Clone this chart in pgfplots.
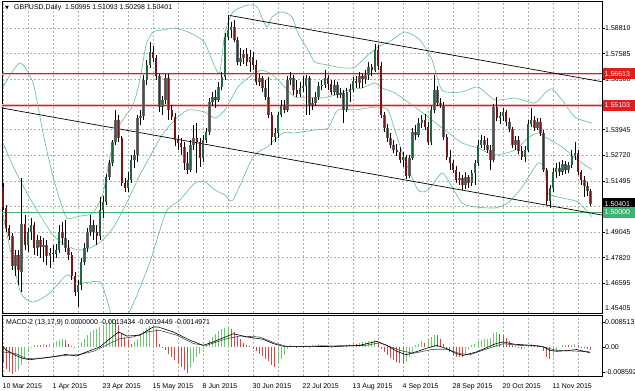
\documentclass[border=0pt]{standalone}
\usepackage{pgfplots}
\pgfplotsset{compat=1.18}
\usepackage{pgfplotstable}
\usepackage{fontspec}
\setmainfont{Liberation Sans}
\newfontfamily\dejavu{DejaVu Sans}
\definecolor{bbgreen}{RGB}{95,190,140}
\definecolor{mtred}{RGB}{225,30,30}
\definecolor{lnred}{RGB}{220,30,30}
\definecolor{mtgreen}{RGB}{60,179,113}
\definecolor{bullc}{RGB}{35,100,65}
\definecolor{bearc}{RGB}{120,20,20}
\definecolor{hgreen}{RGB}{110,200,110}
\definecolor{hred}{RGB}{215,70,70}
\definecolor{gridc}{RGB}{175,175,175}
\newcommand{\sm}{\fontsize{7}{8}\selectfont}

\pgfplotstableread{
i o h l c
0 1.5120 1.5139 1.5010 1.5025
1 1.5020 1.5034 1.4905 1.4924
2 1.4924 1.4938 1.4867 1.4886
3 1.4886 1.4900 1.4723 1.4742
4 1.4742 1.4819 1.4694 1.4795
5 1.4795 1.4819 1.4651 1.4723
6 1.4714 1.5163 1.4618 1.4943
7 1.4943 1.4986 1.4819 1.4843
8 1.4843 1.4924 1.4809 1.4905
9 1.4905 1.4972 1.4867 1.4938
10 1.4938 1.4953 1.4795 1.4828
11 1.4828 1.4891 1.4790 1.4867
12 1.4867 1.4886 1.4781 1.4833
13 1.4833 1.4876 1.4761 1.4843
14 1.4843 1.4867 1.4747 1.4790
15 1.4790 1.4828 1.4733 1.4804
16 1.4804 1.4843 1.4761 1.4800
17 1.4800 1.4848 1.4781 1.4819
18 1.4819 1.4938 1.4804 1.4905
19 1.4905 1.4953 1.4843 1.4876
20 1.4876 1.4962 1.4809 1.4828
21 1.4828 1.4867 1.4771 1.4795
22 1.4795 1.4809 1.4675 1.4694
23 1.4694 1.4713 1.4599 1.4618
24 1.4618 1.4675 1.4546 1.4651
25 1.4651 1.4781 1.4627 1.4761
26 1.4761 1.4852 1.4747 1.4828
27 1.4828 1.4924 1.4809 1.4905
28 1.4905 1.4986 1.4886 1.4938
29 1.4938 1.4962 1.4867 1.4905
30 1.4905 1.4938 1.4843 1.4886
31 1.4886 1.5072 1.4867 1.5010
32 1.5010 1.5077 1.4972 1.5048
33 1.5048 1.5182 1.5034 1.5168
34 1.5168 1.5249 1.5154 1.5235
35 1.5235 1.5345 1.5221 1.5336
36 1.5336 1.5489 1.5321 1.5441
37 1.5441 1.5465 1.5336 1.5355
38 1.5355 1.5364 1.5125 1.5139
39 1.5139 1.5163 1.5096 1.5115
40 1.5115 1.5192 1.5096 1.5154
41 1.5154 1.5273 1.5139 1.5249
42 1.5249 1.5297 1.5211 1.5273
43 1.5273 1.5465 1.5240 1.5450
44 1.5450 1.5489 1.5417 1.5460
45 1.5460 1.5656 1.5441 1.5632
46 1.5632 1.5728 1.5608 1.5704
47 1.5704 1.5814 1.5690 1.5766
48 1.5766 1.5795 1.5718 1.5737
49 1.5737 1.5752 1.5632 1.5651
50 1.5651 1.5661 1.5479 1.5503
51 1.5503 1.5556 1.5465 1.5537
52 1.5537 1.5661 1.5517 1.5642
53 1.5642 1.5661 1.5441 1.5489
54 1.5489 1.5513 1.5441 1.5455
55 1.5455 1.5474 1.5316 1.5345
56 1.5345 1.5369 1.5297 1.5331
57 1.5331 1.5355 1.5273 1.5312
58 1.5312 1.5336 1.5202 1.5235
59 1.5235 1.5288 1.5182 1.5202
60 1.5202 1.5345 1.5192 1.5321
61 1.5321 1.5417 1.5297 1.5355
62 1.5355 1.5426 1.5187 1.5336
63 1.5336 1.5355 1.5216 1.5259
64 1.5259 1.5369 1.5240 1.5345
65 1.5345 1.5403 1.5331 1.5383
66 1.5383 1.5546 1.5369 1.5527
67 1.5527 1.5575 1.5508 1.5551
68 1.5551 1.5584 1.5498 1.5537
69 1.5537 1.5623 1.5527 1.5599
70 1.5599 1.5671 1.5584 1.5647
71 1.5647 1.5857 1.5632 1.5838
72 1.5838 1.5943 1.5824 1.5871
73 1.5871 1.5910 1.5833 1.5886
74 1.5886 1.5919 1.5814 1.5824
75 1.5824 1.5838 1.5704 1.5718
76 1.5718 1.5785 1.5699 1.5737
77 1.5737 1.5776 1.5709 1.5757
78 1.5757 1.5785 1.5699 1.5718
79 1.5718 1.5776 1.5671 1.5742
80 1.5742 1.5766 1.5680 1.5704
81 1.5704 1.5728 1.5608 1.5623
82 1.5623 1.5661 1.5603 1.5642
83 1.5642 1.5651 1.5575 1.5594
84 1.5594 1.5632 1.5537 1.5551
85 1.5551 1.5647 1.5450 1.5465
86 1.5465 1.5479 1.5321 1.5360
87 1.5360 1.5403 1.5336 1.5379
88 1.5379 1.5479 1.5355 1.5465
89 1.5465 1.5537 1.5455 1.5508
90 1.5508 1.5537 1.5474 1.5489
91 1.5489 1.5651 1.5479 1.5632
92 1.5632 1.5671 1.5608 1.5642
93 1.5642 1.5656 1.5560 1.5584
94 1.5584 1.5632 1.5551 1.5565
95 1.5565 1.5623 1.5551 1.5594
96 1.5594 1.5651 1.5575 1.5603
97 1.5603 1.5656 1.5465 1.5642
98 1.5642 1.5651 1.5465 1.5513
99 1.5513 1.5546 1.5489 1.5522
100 1.5522 1.5575 1.5508 1.5551
101 1.5551 1.5623 1.5537 1.5603
102 1.5603 1.5632 1.5584 1.5608
103 1.5608 1.5680 1.5594 1.5642
104 1.5642 1.5656 1.5584 1.5613
105 1.5613 1.5632 1.5560 1.5575
106 1.5575 1.5632 1.5560 1.5608
107 1.5608 1.5623 1.5546 1.5560
108 1.5560 1.5594 1.5546 1.5570
109 1.5570 1.5584 1.5426 1.5489
110 1.5489 1.5594 1.5479 1.5575
111 1.5575 1.5613 1.5527 1.5589
112 1.5589 1.5647 1.5575 1.5627
113 1.5627 1.5651 1.5594 1.5618
114 1.5618 1.5671 1.5594 1.5651
115 1.5651 1.5661 1.5594 1.5637
116 1.5637 1.5680 1.5613 1.5656
117 1.5656 1.5718 1.5632 1.5694
118 1.5694 1.5709 1.5651 1.5680
119 1.5680 1.5805 1.5671 1.5776
120 1.5776 1.5800 1.5680 1.5699
121 1.5699 1.5718 1.5450 1.5465
122 1.5465 1.5479 1.5383 1.5403
123 1.5403 1.5422 1.5336 1.5355
124 1.5355 1.5379 1.5307 1.5321
125 1.5321 1.5345 1.5283 1.5297
126 1.5297 1.5326 1.5269 1.5288
127 1.5288 1.5312 1.5235 1.5249
128 1.5249 1.5288 1.5216 1.5264
129 1.5264 1.5273 1.5159 1.5173
130 1.5173 1.5273 1.5163 1.5259
131 1.5259 1.5403 1.5249 1.5383
132 1.5383 1.5417 1.5345 1.5369
133 1.5369 1.5450 1.5360 1.5426
134 1.5426 1.5465 1.5403 1.5441
135 1.5441 1.5470 1.5393 1.5407
136 1.5407 1.5431 1.5321 1.5336
137 1.5336 1.5508 1.5321 1.5489
138 1.5489 1.5656 1.5474 1.5584
139 1.5584 1.5603 1.5508 1.5522
140 1.5522 1.5546 1.5498 1.5513
141 1.5513 1.5527 1.5345 1.5360
142 1.5360 1.5374 1.5249 1.5264
143 1.5264 1.5297 1.5202 1.5235
144 1.5235 1.5249 1.5187 1.5202
145 1.5202 1.5221 1.5139 1.5154
146 1.5154 1.5192 1.5130 1.5163
147 1.5163 1.5178 1.5106 1.5130
148 1.5130 1.5192 1.5111 1.5168
149 1.5168 1.5178 1.5115 1.5139
150 1.5139 1.5202 1.5125 1.5187
151 1.5187 1.5249 1.5130 1.5235
152 1.5235 1.5345 1.5221 1.5321
153 1.5321 1.5369 1.5307 1.5345
154 1.5345 1.5364 1.5297 1.5321
155 1.5321 1.5355 1.5283 1.5297
156 1.5297 1.5321 1.5202 1.5249
157 1.5249 1.5517 1.5240 1.5503
158 1.5503 1.5551 1.5436 1.5450
159 1.5450 1.5479 1.5422 1.5460
160 1.5460 1.5498 1.5436 1.5479
161 1.5479 1.5489 1.5412 1.5431
162 1.5431 1.5450 1.5383 1.5398
163 1.5398 1.5407 1.5307 1.5321
164 1.5321 1.5364 1.5297 1.5345
165 1.5345 1.5364 1.5278 1.5292
166 1.5292 1.5316 1.5249 1.5264
167 1.5264 1.5316 1.5240 1.5297
168 1.5297 1.5441 1.5288 1.5422
169 1.5422 1.5498 1.5407 1.5441
170 1.5441 1.5460 1.5388 1.5403
171 1.5403 1.5450 1.5393 1.5431
172 1.5431 1.5450 1.5364 1.5379
173 1.5379 1.5393 1.5192 1.5202
174 1.5202 1.5211 1.5034 1.5053
175 1.5053 1.5130 1.5020 1.5115
176 1.5115 1.5211 1.5096 1.5192
177 1.5192 1.5235 1.5163 1.5211
178 1.5211 1.5240 1.5173 1.5192
179 1.5192 1.5249 1.5178 1.5230
180 1.5230 1.5245 1.5182 1.5202
181 1.5202 1.5240 1.5187 1.5226
182 1.5226 1.5297 1.5211 1.5269
183 1.5269 1.5336 1.5249 1.5283
184 1.5283 1.5297 1.5178 1.5192
185 1.5192 1.5202 1.5130 1.5154
186 1.5154 1.5173 1.5072 1.5125
187 1.5125 1.5144 1.5077 1.5101
188 1.50995 1.51093 1.50298 1.50401
}\candles

\pgfplotstableread{
i p
0 1.5599
5.4 1.5714
9.6 1.5618
12.8 1.5379
15.7 1.5187
18.2 1.5058
20.5 1.4972
24.6 1.4981
28.8 1.4996
32 1.5091
34.2 1.5264
37.4 1.5417
41.6 1.5513
43.8 1.5632
45.8 1.5800
48 1.5862
50.9 1.5871
55 1.5881
59.2 1.5862
62.4 1.5838
64.6 1.5809
67.8 1.5694
69.4 1.5671
71 1.5857
73.6 1.5958
78.4 1.5991
81.3 1.5982
83.2 1.5919
84.5 1.5886
86.1 1.5934
89.3 1.5958
92.5 1.5934
94.4 1.5857
97.6 1.5776
99.8 1.5718
104 1.5704
108.5 1.5690
112.6 1.5694
116.8 1.5752
120 1.5790
124.5 1.5824
128.6 1.5862
133.4 1.5824
137.3 1.5728
140.5 1.5584
146.9 1.5575
152 1.5599
157.4 1.5537
163.8 1.5546
170.2 1.5522
173.4 1.5570
175.7 1.5589
178.9 1.5537
183 1.5455
188.5 1.5426
}\bbup

\pgfplotstableread{
i p
0 1.5331
3.8 1.5202
8 1.5082
11.8 1.4986
16 1.4891
19.8 1.4843
24 1.4819
27.8 1.4828
32 1.4867
35.8 1.4938
40 1.5058
43.8 1.5178
46.4 1.5249
50.9 1.5369
55 1.5441
59.2 1.5489
64.6 1.5479
67.8 1.5450
71 1.5489
75.2 1.5599
79.7 1.5656
82.9 1.5680
87 1.5647
93.4 1.5551
97.6 1.5551
102.1 1.5546
106.2 1.5560
110.4 1.5584
114.9 1.5594
119 1.5618
121.3 1.5594
125.4 1.5570
131.8 1.5503
136 1.5455
141.4 1.5393
146.9 1.5331
152 1.5307
157.4 1.5273
163.8 1.5297
168 1.5355
171.2 1.5379
173.4 1.5360
178.9 1.5312
184 1.5249
188.5 1.5202
}\bbmid

\pgfplotstableread{
i p
0 1.4986
5.4 1.4627
9.6 1.4570
15 1.4613
20.5 1.4699
24.6 1.4661
31 1.4666
33.3 1.4579
34.9 1.4503
39 1.4493
42.2 1.4579
47 1.4761
50.2 1.4914
52.5 1.5010
56.6 1.5058
61.4 1.5139
64.6 1.5144
67.8 1.5106
71 1.5082
73.6 1.5058
80 1.5264
84.5 1.5312
89.6 1.5379
93.4 1.5379
99.8 1.5393
104 1.5403
107.2 1.5489
112.6 1.5489
116.8 1.5498
120 1.5503
123.2 1.5489
125.4 1.5393
128.6 1.5249
132.8 1.5106
136 1.5106
140.5 1.5187
143.7 1.5120
146.9 1.5044
151 1.5025
157.4 1.5020
161.6 1.5044
166.1 1.5120
171.2 1.5235
173.4 1.5202
174.4 1.5091
178.9 1.5068
184 1.5048
188.5 1.4977
}\bblow

\pgfplotstableread{
i v g
0 -0.0052 0
1 -0.0074 0
2 -0.0086 0
3 -0.0092 0
4 -0.0086 1
5 -0.0080 1
6 -0.0063 1
7 -0.0040 1
8 -0.0017 1
9 -0.0004 1
10 0.0005 1
11 0.0008 1
12 0.0005 0
13 0.0009 1
14 0.0008 0
15 0.0011 1
16 0.0013 1
17 0.0019 1
18 0.0025 1
19 0.0028 1
20 0.0022 0
21 0.0011 0
22 0.0003 0
23 -0.0001 0
24 0.0002 1
25 0.0017 1
26 0.0028 1
27 0.0040 1
28 0.0051 1
29 0.0057 1
30 0.0062 1
31 0.0068 1
32 0.0074 1
33 0.0083 1
34 0.0091 1
35 0.0097 1
36 0.0091 0
37 0.0074 0
38 0.0045 0
39 0.0034 0
40 0.0022 0
41 0.0011 0
42 0.0017 1
43 0.0026 1
44 0.0040 1
45 0.0053 1
46 0.0065 1
47 0.0071 1
48 0.0074 1
49 0.0062 0
50 0.0011 0
51 -0.0004 0
52 -0.0012 0
53 -0.0023 0
54 -0.0035 0
55 -0.0046 0
56 -0.0057 0
57 -0.0069 0
58 -0.0080 0
59 -0.0088 0
60 -0.0069 1
61 -0.0052 1
62 -0.0035 1
63 -0.0023 1
64 -0.0008 1
65 0.0005 1
66 0.0022 1
67 0.0034 1
68 0.0045 1
69 0.0053 1
70 0.0060 1
71 0.0066 1
72 0.0068 1
73 0.0062 0
74 0.0051 0
75 0.0037 0
76 0.0026 0
77 0.0014 0
78 0.0008 0
79 0.0002 0
80 -0.0006 0
81 -0.0015 0
82 -0.0023 0
83 -0.0031 0
84 -0.0040 0
85 -0.0049 0
86 -0.0061 0
87 -0.0069 0
88 -0.0057 1
89 -0.0040 1
90 -0.0027 1
91 -0.0008 1
92 0.0005 1
93 0.0003 0
94 0.0001 0
95 0.0002 1
96 -0.0001 0
97 0.0004 1
98 0.0001 0
99 0.0005 1
100 0.0008 1
101 0.0009 1
102 0.0005 0
103 0.0008 1
104 0.0002 0
105 -0.0001 0
106 0.0000 1
107 0.0005 1
108 0.0008 1
109 0.0003 0
110 0.0005 1
111 0.0009 1
112 0.0012 1
113 0.0010 0
114 0.0013 1
115 0.0017 1
116 0.0018 1
117 0.0019 1
118 0.0021 1
119 0.0022 1
120 0.0017 0
121 -0.0006 0
122 -0.0017 0
123 -0.0029 0
124 -0.0038 0
125 -0.0046 0
126 -0.0050 0
127 -0.0054 0
128 -0.0057 0
129 -0.0052 1
130 -0.0035 1
131 -0.0017 1
132 0.0005 1
133 0.0011 1
134 0.0019 1
135 0.0014 0
136 0.0022 1
137 0.0034 1
138 0.0042 1
139 0.0040 0
140 0.0028 0
141 0.0011 0
142 -0.0006 0
143 -0.0017 0
144 -0.0027 0
145 -0.0033 0
146 -0.0035 0
147 -0.0036 0
148 -0.0025 1
149 -0.0006 1
150 0.0005 1
151 0.0011 1
152 0.0019 1
153 0.0022 1
154 0.0026 1
155 0.0028 1
156 0.0031 1
157 0.0049 1
158 0.0051 1
159 0.0045 0
160 0.0040 0
161 0.0031 0
162 0.0019 0
163 0.0005 0
164 0.0002 0
165 -0.0004 0
166 -0.0006 0
167 -0.0002 1
168 0.0005 1
169 0.0010 1
170 0.0008 0
171 0.0005 0
172 0.0000 0
173 -0.0015 0
174 -0.0035 0
175 -0.0040 0
176 -0.0029 1
177 -0.0015 1
178 0.0000 1
179 0.0005 1
180 0.0008 1
181 0.0005 0
182 0.0007 1
183 0.0010 1
184 0.0005 0
185 0.0001 0
186 -0.0004 0
187 -0.0008 0
188 -0.0012 0
}\hist

\begin{document}
\begin{tikzpicture}[x=1pt,y=1pt]
\begin{axis}[
  at={(2pt,78pt)}, anchor=south west, scale only axis,
  width=600pt, height=312pt,
  xmin=-0.32, xmax=191.68, ymin=1.45173, ymax=1.60102,
  clip mode=individual,
  scaled x ticks=false, scaled y ticks=false,
  axis line style={black, line width=0.6pt},
  xtick={0,8,...,184}, xticklabels={}, xtick style={draw=none},
  ytick={1.58810,1.57585,1.56360,1.55135,1.53945,1.52720,1.51495,1.50270,1.49045,1.47820,1.46595},
  yticklabels={1.58810,1.57585,1.56360,,1.53945,1.52720,1.51495,,1.49045,1.47820,1.46595},
  ytick pos=right, yticklabel pos=right, tick align=outside, major tick length=3pt,
  ytick style={black, line width=0.5pt},
  grid=major, grid style={gridc, dash pattern=on 2pt off 2pt, line width=0.5pt},
  yticklabel style={font=\sm, anchor=west, inner sep=0pt, xshift=0pt},
]
\addplot[bbgreen, line width=0.6pt, smooth, tension=0.4, mark=none] table[x=i,y=p] {\bbup};
\addplot[bbgreen, line width=0.6pt, smooth, tension=0.4, mark=none] table[x=i,y=p] {\bbmid};
\addplot[bbgreen, line width=0.6pt, smooth, tension=0.4, mark=none] table[x=i,y=p] {\bblow};
\addplot[mtred!30, line width=2.2pt, mark=none] coordinates {(-0.32,1.56613) (191.68,1.56613)};
\addplot[lnred, line width=1.0pt, mark=none] coordinates {(-0.32,1.56613) (191.68,1.56613)};
\addplot[mtred!30, line width=2.4pt, mark=none] coordinates {(-0.32,1.55103) (191.68,1.55103)};
\addplot[lnred, line width=1.0pt, mark=none] coordinates {(-0.32,1.55103) (191.68,1.55103)};
\addplot[mtgreen, line width=0.9pt, mark=none] coordinates {(-0.32,1.50000) (191.68,1.50000)};
\addplot[black, line width=0.7pt, mark=none] coordinates {(72.5,1.5941) (191.68,1.5624)};
\addplot[black, line width=0.7pt, mark=none] coordinates {(-0.32,1.5498) (191.68,1.4986)};
\addplot[black, line width=0.55pt, mark=none, quiver={u=0,v=\thisrow{h}-\thisrow{l}}] table[x=i,y=l] {\candles};
\addplot[gray!80!black, line width=2.5pt, mark=none, quiver={u=0,v=\thisrow{c}-\thisrow{o}}] table[x=i,y expr={\thisrow{c}>=\thisrow{o} ? \thisrow{o} : nan}] {\candles};
\addplot[bullc, line width=1.5pt, mark=none, quiver={u=0,v=\thisrow{c}-\thisrow{o}}] table[x=i,y expr={\thisrow{c}>=\thisrow{o} ? \thisrow{o} : nan}] {\candles};
\addplot[gray!80!black, line width=2.5pt, mark=none, quiver={u=0,v=\thisrow{o}-\thisrow{c}}] table[x=i,y expr={\thisrow{c}<\thisrow{o} ? \thisrow{c} : nan}] {\candles};
\addplot[bearc, line width=1.5pt, mark=none, quiver={u=0,v=\thisrow{o}-\thisrow{c}}] table[x=i,y expr={\thisrow{c}<\thisrow{o} ? \thisrow{c} : nan}] {\candles};
\coordinate (lbA) at (axis cs:191.68,1.56613);
\coordinate (lbB) at (axis cs:191.68,1.55103);
\coordinate (lbC) at (axis cs:191.68,1.50401);
\coordinate (lbD) at (axis cs:191.68,1.50000);
\coordinate (lbE) at (axis cs:191.68,1.45405);
\end{axis}

\begin{axis}[
  at={(2pt,15pt)}, anchor=south west, scale only axis,
  width=600pt, height=61pt,
  xmin=-0.32, xmax=191.68, ymin=-0.00996, ymax=0.01091,
  clip mode=individual,
  scaled x ticks=false, scaled y ticks=false,
  axis line style={black, line width=0.6pt},
  xtick={0,8,...,184},
  xticklabels={10 Mar 2015,,1 Apr 2015,,23 Apr 2015,,15 May 2015,,8 Jun 2015,,30 Jun 2015,,22 Jul 2015,,13 Aug 2015,,4 Sep 2015,,28 Sep 2015,,20 Oct 2015,,11 Nov 2015,},
  xtick style={draw=none},
  xticklabel style={font=\sm, anchor=north west, inner sep=0pt, yshift=-4pt, xshift=-0.5pt},
  ytick={-0.008592,0,0.008513},
  yticklabels={-0.008592,0.00,0.008513},
  ytick pos=right, yticklabel pos=right, tick align=outside, major tick length=3pt,
  ytick style={black, line width=0.5pt},
  yticklabel style={font=\sm, anchor=west, inner sep=0pt},
  xmajorgrids=true, ymajorgrids=false,
  grid style={gridc, dash pattern=on 2pt off 2pt, line width=0.5pt},
]
\addplot[ycomb, hgreen, line width=0.9pt, mark=none] table[x=i, y expr={\thisrow{g}>0 ? \thisrow{v} : nan}] {\hist};
\addplot[ycomb, hred, line width=0.9pt, mark=none] table[x=i, y expr={\thisrow{g}<1 ? \thisrow{v} : nan}] {\hist};
\addplot[black!70, line width=0.6pt, mark=none] coordinates {
(-0.3,-0.0017) (4,-0.0023) (7.6,-0.0040) (13,-0.0038) (20,-0.0029) (24.6,-0.0026) (29,-0.0015) (34,0.0011) (37.4,0.0028) (41.7,0.0034) (46,0.0051) (50,0.0057) (55.6,0.0040) (61,0.0011) (65,0.0005) (71.6,0.0028) (75.8,0.0037) (82,0.0034) (87.6,0.0011) (90.8,0.0002) (95,0.0002) (116,0.0005) (120.6,0.0014) (127,-0.0012) (131.3,-0.0022) (137.7,-0.0008) (142,-0.0008) (146.2,-0.0023) (149.4,-0.0027) (155,-0.0006) (160.1,0.0011) (165.4,0.0005) (171.8,0.0003) (177.2,-0.0012) (182.4,-0.0014) (187.8,-0.0017)};
\addplot[black, line width=0.6pt, mark=none] coordinates {
(-0.3,0.0005) (1,-0.0011) (4,-0.0029) (6.5,-0.0040) (8.6,-0.0044) (13,-0.0038) (17,-0.0032) (20,-0.0026) (23.6,-0.0031) (26.8,-0.0017) (31,0.0000) (34.2,0.0028) (37,0.0051) (39.6,0.0037) (43.8,0.0040) (48,0.0068) (49.7,0.0068) (54.5,0.0051) (59.8,0.0023) (64,0.0005) (67.3,0.0017) (73.7,0.0045) (78,0.0034) (83.3,0.0026) (86.5,0.0011) (89.7,0.0002) (95,0.0002) (105.7,0.0001) (114,0.0005) (119.6,0.0019) (122.8,0.0005) (126,-0.0015) (129,-0.0027) (132.7,-0.0015) (135.7,-0.0004) (138.8,0.0005) (142,-0.0006) (145,-0.0023) (147.3,-0.0029) (151.6,-0.0017) (157.7,0.0011) (160.1,0.0017) (163.7,0.0009) (169.7,0.0005) (173,0.0000) (175,-0.0012) (177.2,-0.0015) (180.5,-0.0013) (183.6,-0.0009) (187.8,-0.0020)};
\end{axis}

% price labels on the right scale
\node[fill=mtred, text=white, font=\sm, anchor=west, inner xsep=2pt, inner ysep=0pt, minimum height=11pt, text width=29pt, align=left] at ([xshift=0.5pt]lbA) {1.56613};
\node[fill=mtred, text=white, font=\sm, anchor=west, inner xsep=2pt, inner ysep=0pt, minimum height=11pt, text width=29pt, align=left] at ([xshift=0.5pt]lbB) {1.55103};
\node[fill=black, text=white, font=\sm, anchor=west, inner xsep=2pt, inner ysep=0pt, minimum height=11pt, text width=29pt, align=left] at ([xshift=0.5pt]lbC) {1.50401};
\node[fill=mtgreen, text=white, font=\sm, anchor=west, inner xsep=2pt, inner ysep=0pt, minimum height=11pt, text width=29pt, align=left] at ([xshift=0.5pt]lbD) {1.50000};
\node[font=\sm, anchor=west, inner sep=0pt] at ([xshift=3pt]lbE) {1.45405};
% titles
\node[anchor=west, inner sep=0pt] at (5,383) {\dejavu\fontsize{5}{5}\selectfont ▼};
\node[anchor=west, inner sep=0pt, font=\sm] at (14,383) {GBPUSD,Daily\ \ 1.50995 1.51093 1.50298 1.50401};
\node[anchor=west, inner sep=0pt, font=\sm] at (6,68) {MACD-2 (13,17,9) 0.0000000 -0.0013434 -0.0019449 -0.0014971};
\pgfresetboundingbox
\path[use as bounding box] (0,0) rectangle (635,391);
\end{tikzpicture}
\end{document}
